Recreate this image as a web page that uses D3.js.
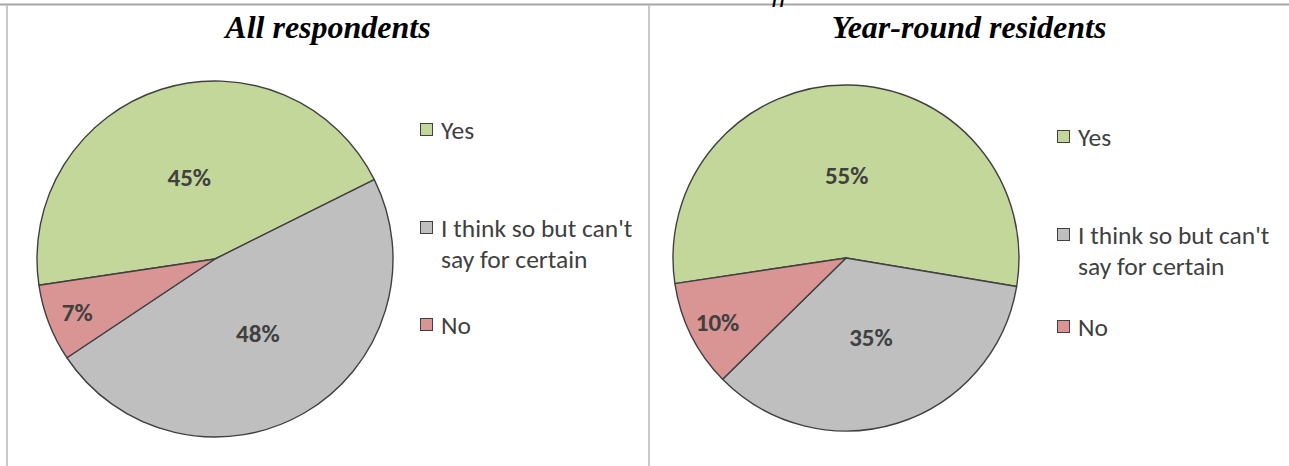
<!DOCTYPE html>
<html>
<head>
<meta charset="utf-8">
<script src="https://cdn.jsdelivr.net/npm/d3@7"></script>
<style>
  html, body { margin: 0; padding: 0; background: #fff; }
  svg { display: block; }
</style>
</head>
<body>
<svg id="chart" width="1289" height="466"></svg>
<script>
// Survey answers, in the order the slices are laid out
const categories = ["Yes", "I think so but can't say for certain", "No"];
const legendLines = [["Yes"], ["I think so but can't", "say for certain"], ["No"]];
const allRespondents = [45, 48, 7];
const yearRoundResidents = [55, 35, 10];
const panelTitles = ["All respondents", "Year-round residents"];

const colors = d3.scaleOrdinal()
  .domain(categories)
  .range(["#c4d79b", "#bfbfbf", "#d99594"]);

const svg = d3.select("#chart");
const W = 1289, H = 466;
const labelFont = "Carlito, Lato, 'Liberation Sans', sans-serif";
const textColor = "#404040";

// Frame lines
svg.append("line").attr("x1", 0).attr("x2", W).attr("y1", 4.5).attr("y2", 4.5)
  .attr("stroke", "#a6a6a6").attr("stroke-width", 2);
svg.append("line").attr("x1", 7).attr("x2", 7).attr("y1", 5).attr("y2", H)
  .attr("stroke", "#c9c9c9").attr("stroke-width", 2);
svg.append("line").attr("x1", 649).attr("x2", 649).attr("y1", 5).attr("y2", H)
  .attr("stroke", "#c9c9c9").attr("stroke-width", 2);

// Tail of the heading text above the frame
svg.append("text").attr("x", 772).attr("y", 1)
  .attr("font-family", "'Liberation Serif', serif").attr("font-style", "italic")
  .attr("font-size", 28).attr("fill", "#000").text("ff");

const panels = [
  { title: panelTitles[0], values: allRespondents, cx: 215, cy: 259, r: 178, titleX: 328,
    legendX: 420, legendY: [130, 228, 325] },
  { title: panelTitles[1], values: yearRoundResidents, cx: 846, cy: 258, r: 173, titleX: 969,
    legendX: 1057, legendY: [137, 235, 327] }
];

const startAngle = 261.5 * Math.PI / 180;
const pie = d3.pie().sort(null).value(d => d.value)
  .startAngle(startAngle).endAngle(startAngle + 2 * Math.PI);

panels.forEach(p => {
  svg.append("text")
    .attr("x", p.titleX).attr("y", 38)
    .attr("text-anchor", "middle")
    .attr("font-family", "'Liberation Serif', 'Times New Roman', serif")
    .attr("font-weight", "bold").attr("font-style", "italic")
    .attr("font-size", 32).attr("fill", "#000")
    .text(p.title);

  const data = categories.map((c, i) => ({ category: c, value: p.values[i] }));
  const arcs = pie(data);
  const arc = d3.arc().innerRadius(0).outerRadius(p.r);
  const g = svg.append("g").attr("transform", `translate(${p.cx},${p.cy})`);

  g.selectAll("path").data(arcs).join("path")
    .attr("d", arc)
    .attr("fill", d => colors(d.data.category))
    .attr("stroke", "#404040").attr("stroke-width", 1.4)
    .attr("stroke-linejoin", "round");

  g.selectAll("text").data(arcs).join("text")
    .attr("transform", d => {
      const mid = (d.startAngle + d.endAngle) / 2;
      const share = (d.endAngle - d.startAngle) / (2 * Math.PI);
      const k = share < 0.2 ? 0.83 : 0.48;
      return `translate(${Math.sin(mid) * p.r * k},${-Math.cos(mid) * p.r * k})`;
    })
    .attr("text-anchor", "middle").attr("dy", "0.35em")
    .attr("font-family", labelFont).attr("font-weight", "bold")
    .attr("font-size", 25).attr("fill", textColor)
    .text(d => `${d.data.value}%`);

  // Legend
  const lg = svg.append("g");
  categories.forEach((c, i) => {
    const y = p.legendY[i];
    lg.append("rect")
      .attr("x", p.legendX + 0.5).attr("y", y - 6.5)
      .attr("width", 12).attr("height", 12)
      .attr("fill", colors(c)).attr("stroke", "#404040").attr("stroke-width", 1);
    const t = lg.append("text")
      .attr("x", p.legendX + 21).attr("y", y)
      .attr("font-family", labelFont).attr("font-size", 25.5)
      .attr("fill", textColor);
    legendLines[i].forEach((line, j) => {
      t.append("tspan").attr("x", p.legendX + 21).attr("dy", j === 0 ? "0.35em" : 31)
        .text(line);
    });
  });
});
</script>
</body>
</html>
